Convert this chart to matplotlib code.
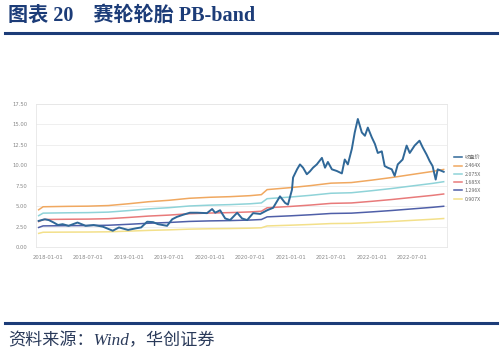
import matplotlib
matplotlib.use("Agg")
import matplotlib.pyplot as plt
import matplotlib.dates as mdates
import pandas as pd

# close price
close_dates = [
    "2017-11-20", "2017-12-18", "2018-01-05", "2018-01-27", "2018-02-15", "2018-03-08",
    "2018-04-04", "2018-05-14", "2018-06-20", "2018-07-26", "2018-09-05", "2018-10-20",
    "2018-11-17", "2018-12-28", "2019-02-03", "2019-02-25", "2019-03-24", "2019-04-20",
    "2019-05-12", "2019-06-22", "2019-07-15", "2019-08-06", "2019-09-02", "2019-10-03",
    "2019-11-04", "2019-12-19", "2020-01-11", "2020-01-25", "2020-02-16", "2020-03-10",
    "2020-04-01", "2020-05-03", "2020-05-25", "2020-06-17", "2020-07-14", "2020-08-15",
    "2020-09-15", "2020-10-12", "2020-11-12", "2020-12-05", "2020-12-18", "2021-01-05",
    "2021-01-10", "2021-01-28", "2021-02-10", "2021-02-24", "2021-03-13", "2021-03-27",
    "2021-04-10", "2021-04-27", "2021-05-20", "2021-06-03", "2021-06-16", "2021-07-04",
    "2021-07-26", "2021-08-18", "2021-08-31", "2021-09-14", "2021-10-02", "2021-10-15",
    "2021-10-29", "2021-11-16", "2021-11-30", "2021-12-13", "2021-12-31", "2022-01-14",
    "2022-01-27", "2022-02-14", "2022-02-27", "2022-03-13", "2022-03-31", "2022-04-13",
    "2022-04-27", "2022-05-19", "2022-06-06", "2022-06-20", "2022-07-12", "2022-08-03",
    "2022-08-17", "2022-09-04", "2022-09-18", "2022-10-01", "2022-10-15", "2022-10-24",
    "2022-11-11", "2022-11-20",
]
close = [
    3.2, 3.4, 3.3, 3.0, 2.7, 2.8,
    2.6, 3.0, 2.6, 2.7, 2.5, 2.0,
    2.4, 2.1, 2.3, 2.4, 3.1, 3.05,
    2.8, 2.6, 3.4, 3.7, 3.95, 4.2,
    4.2, 4.15, 4.65, 4.2, 4.5, 3.5,
    3.3, 4.2, 3.5, 3.3, 4.15, 4.05,
    4.5, 4.8, 6.2, 5.4, 5.2, 7.0,
    8.5, 9.5, 10.1, 9.7, 8.9, 9.25,
    9.7, 10.1, 10.9, 9.7, 10.4, 9.5,
    9.3, 9.0, 10.7, 10.1, 12.0, 14.0,
    15.65, 14.0, 13.6, 14.6, 13.4, 12.6,
    11.5, 11.7, 9.9, 9.7, 9.5, 8.7,
    10.1, 10.7, 12.4, 11.5, 12.4, 13.0,
    12.2, 11.3, 10.5, 9.9, 8.25, 9.5,
    9.3, 9.2,
]

# book value per share behind the bands
bps_dates = [
    "2017-11-20", "2017-12-10", "2018-03-31", "2018-06-30", "2018-09-30", "2018-12-31",
    "2019-03-31", "2019-06-30", "2019-09-30", "2019-12-31", "2020-03-31", "2020-06-30",
    "2020-08-20", "2020-09-15", "2020-12-31", "2021-03-31", "2021-06-30", "2021-09-30",
    "2021-12-31", "2022-03-31", "2022-06-30", "2022-09-30", "2022-11-20",
]
bps = [
    1.85, 2.0, 2.02, 2.03, 2.06, 2.15,
    2.25, 2.32, 2.42, 2.47, 2.5, 2.55,
    2.6, 2.85, 2.95, 3.05, 3.17, 3.2,
    3.32, 3.45, 3.6, 3.75, 3.85,
]

multiples = [2.464, 2.075, 1.685, 1.296, 0.907]
band_labels = ["2.464X", "2.075X", "1.685X", "1.296X", "0.907X"]
band_colors = ["#f0a860", "#8fd3d8", "#e87a7a", "#4f5fa8", "#f3e08a"]

y_ticks = [0, 2.5, 5, 7.5, 10, 12.5, 15, 17.5]
x_ticks = ["2018-01-01", "2018-07-01", "2019-01-01", "2019-07-01", "2020-01-01",
           "2020-07-01", "2021-01-01", "2021-07-01", "2022-01-01", "2022-07-01"]

navy = "#1c3c78"
cjk = ["Liberation Serif", "Noto Sans CJK SC"]

fig = plt.figure(figsize=(5.0, 3.52), dpi=100)
fig.patch.set_facecolor("white")

fig.text(0.016, 0.955, "图表 20    赛轮轮胎 PB-band", family=cjk, fontsize=14.5,
         fontweight="bold", color=navy, va="center", ha="left")
fig.add_artist(plt.Line2D([0.01, 0.994], [0.905, 0.905], color=navy, lw=2.2))
fig.add_artist(plt.Line2D([0.01, 0.994], [0.083, 0.083], color=navy, lw=2.2))
fig.text(0.016, 0.032, "资料来源：Wind，华创证券", family=cjk, fontsize=12.3,
         style="italic", color="#2a3a5a", va="center", ha="left")

ax = fig.add_axes([0.072, 0.298, 0.822, 0.407])

bd = pd.to_datetime(bps_dates)
for m, lab, col in zip(multiples, band_labels, band_colors):
    ax.plot(bd, [b * m for b in bps], color=col, lw=1.1, label=lab)
ax.plot(pd.to_datetime(close_dates), close, color="#306898", lw=1.4, label="收盘价", zorder=5)

ax.set_ylim(0, 17.5)
ax.set_yticks(y_ticks)
ax.set_yticklabels([f"{v:.2f}" for v in y_ticks])
ax.set_xlim(pd.Timestamp("2017-11-08"), pd.Timestamp("2022-12-05"))
ax.set_xticks(pd.to_datetime(x_ticks))
ax.xaxis.set_major_formatter(mdates.DateFormatter("%Y-%m-%d"))
ax.tick_params(labelsize=3.8, colors="#888888", length=0, pad=6)
ax.grid(axis="y", color="#ececec", lw=0.6)
ax.set_axisbelow(True)
for s in ax.spines.values():
    s.set_color("#e6e6e6")
    s.set_linewidth(0.6)

h, l = ax.get_legend_handles_labels()
order = [5, 0, 1, 2, 3, 4]
leg = ax.legend([h[i] for i in order], [l[i] for i in order], loc="center left",
                bbox_to_anchor=(1.005, 0.48), frameon=False,
                prop={"family": ["Noto Sans CJK SC", "DejaVu Sans"], "size": 3.8},
                handlelength=1.6, labelspacing=0.62, handletextpad=0.5)
for t in leg.get_texts():
    t.set_color("#666666")
for ln in leg.get_lines():
    ln.set_linewidth(1.1)

fig.savefig("out.png", dpi=100)
